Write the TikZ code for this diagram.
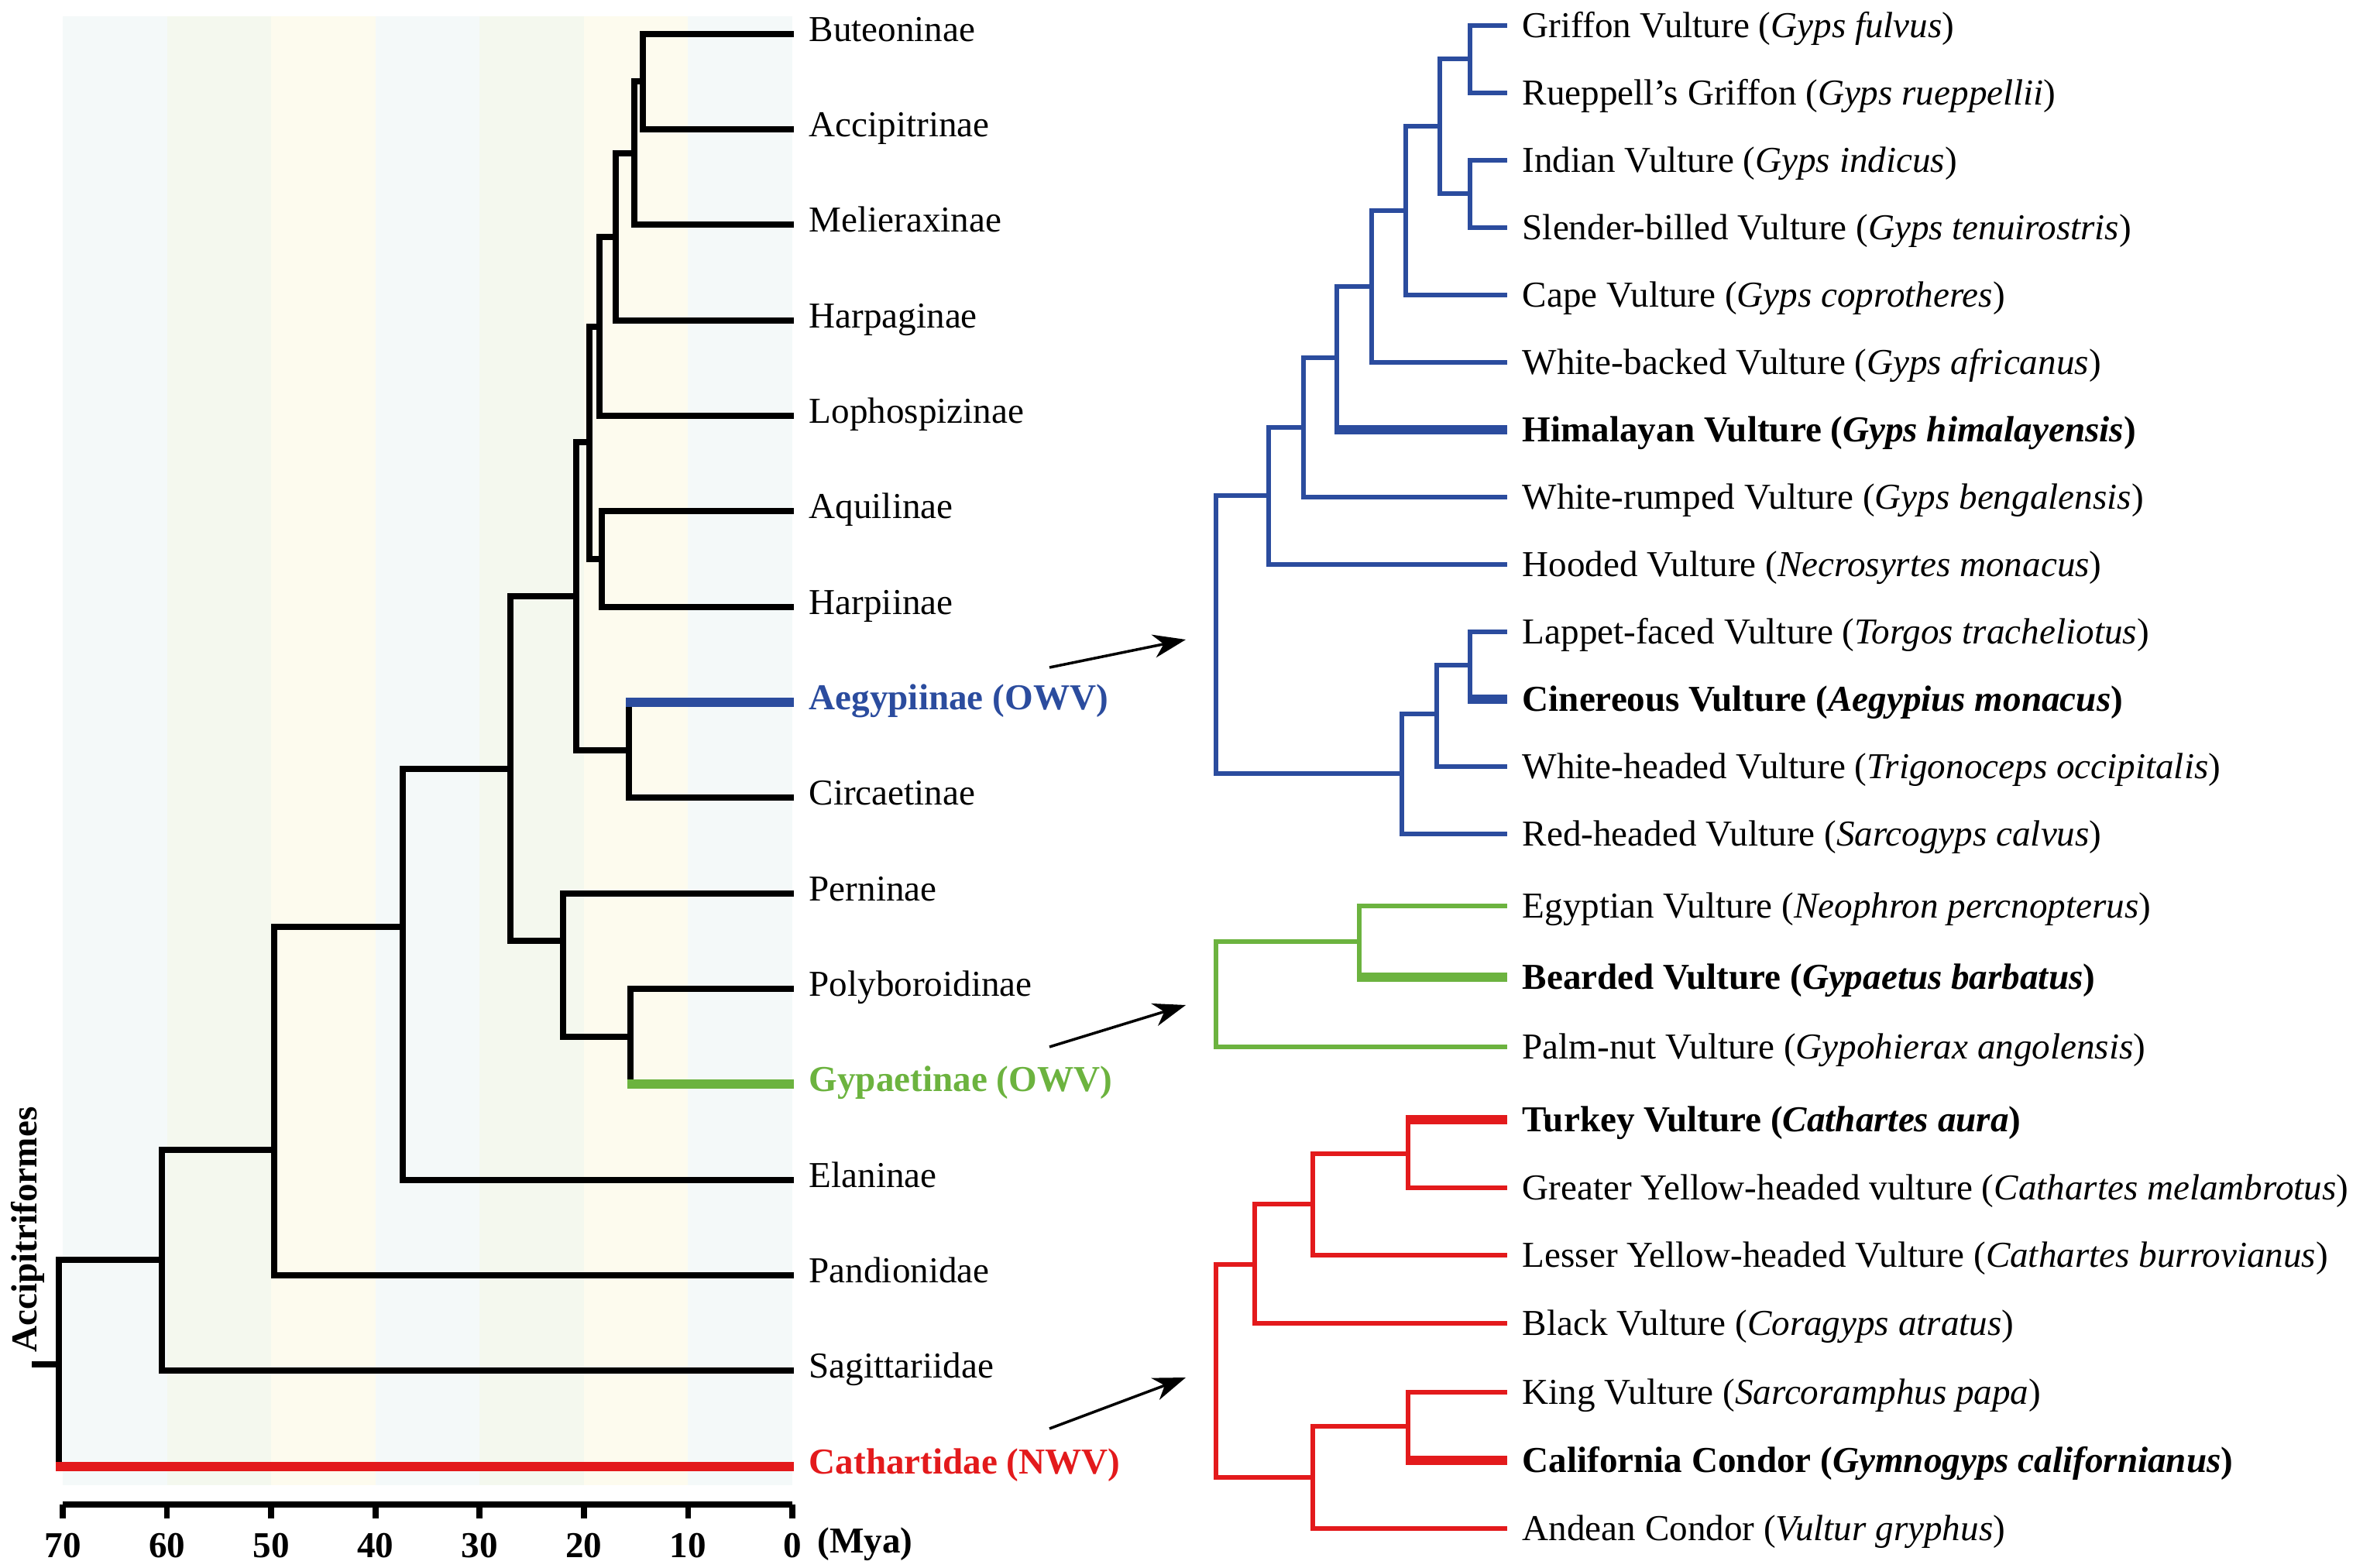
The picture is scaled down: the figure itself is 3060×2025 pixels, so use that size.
\documentclass[tikz,border=0pt]{standalone}
\usepackage{fontspec}
\setmainfont{Liberation Serif}
\usetikzlibrary{arrows.meta}
\definecolor{owvblue}{HTML}{2B4C9E}
\definecolor{owvgreen}{HTML}{6CB33F}
\definecolor{nwvred}{HTML}{E31A1C}
\definecolor{bandA}{HTML}{F4F9F9}
\definecolor{bandB}{HTML}{F4F8EE}
\definecolor{bandC}{HTML}{FDFBEE}

\begin{document}
\begin{tikzpicture}[x=0.01cm,y=-0.01cm,
  every node/.style={font=\fontsize{13.4}{16}\selectfont},
  branch/.style={line width=2.2pt},
  cbranch/.style={line width=1.9pt},
  hi/.style={line width=3.6pt},
  taxon/.style={anchor=west,inner xsep=0.19cm,inner ysep=0pt,text height=9pt,text depth=3.6pt},
  species/.style={taxon,text height=12pt,text depth=3pt},
  pointer/.style={line width=1pt,-{Stealth[length=4.2mm,width=3mm,inset=1.3mm]}}]

\useasboundingbox (0,0) rectangle (3060,2025);

\foreach \t/\c in {70/bandA,60/bandB,50/bandC,40/bandA,30/bandB,20/bandC,10/bandA}
  \fill[\c] ({1023-13.457*\t},21) rectangle ({1023-13.457*(\t-10)},1918);

\node[taxon] (Bu) at (1025,44)   {Buteoninae};
\node[taxon] (Ac) at (1025,167)  {Accipitrinae};
\node[taxon] (Me) at (1025,290)  {Melieraxinae};
\node[taxon] (Hg) at (1025,414)  {Harpaginae};
\node[taxon] (Lo) at (1025,537)  {Lophospizinae};
\node[taxon] (Aq) at (1025,660)  {Aquilinae};
\node[taxon] (Hp) at (1025,784)  {Harpiinae};
\node[taxon,text=owvblue,font=\fontsize{13.4}{16}\selectfont\bfseries] (Ae) at (1025,907) {Aegypiinae (OWV)};
\node[taxon] (Ci) at (1025,1030) {Circaetinae};
\node[taxon] (Pe) at (1025,1154) {Perninae};
\node[taxon] (Po) at (1025,1277) {Polyboroidinae};
\node[taxon,text=owvgreen,font=\fontsize{13.4}{16}\selectfont\bfseries] (Gy) at (1025,1400) {Gypaetinae (OWV)};
\node[taxon] (El) at (1025,1524) {Elaninae};
\node[taxon] (Pa) at (1025,1647) {Pandionidae};
\node[taxon] (Sa) at (1025,1770) {Sagittariidae};
\node[taxon,text=nwvred,font=\fontsize{13.4}{16}\selectfont\bfseries] (Ca) at (1025,1894) {Cathartidae (NWV)};

\coordinate (a1)  at (830,105);
\coordinate (a2)  at (819,198);
\coordinate (a3)  at (795,306);
\coordinate (a4)  at (774,422);
\coordinate (a5)  at (761,571);
\coordinate (a6)  at (777,722);
\coordinate (a7)  at (812,969);
\coordinate (a8)  at (744,770);
\coordinate (a9)  at (727,1215);
\coordinate (a10) at (814,1339);
\coordinate (a11) at (659,993);
\coordinate (a12) at (520,1197);
\coordinate (a13) at (354,1485);
\coordinate (a14) at (209,1627);
\coordinate (root) at (76,1762);
\coordinate (stub) at (41,1762);

\draw[branch] (a1) |- (Bu.west);
\draw[branch] (a1) |- (Ac.west);
\draw[branch] (a2) |- (a1);
\draw[branch] (a2) |- (Me.west);
\draw[branch] (a3) |- (a2);
\draw[branch] (a3) |- (Hg.west);
\draw[branch] (a4) |- (a3);
\draw[branch] (a4) |- (Lo.west);
\draw[branch] (a6) |- (Aq.west);
\draw[branch] (a6) |- (Hp.west);
\draw[branch] (a5) |- (a4);
\draw[branch] (a5) |- (a6);
\draw[branch] (a7) -- (a7 |- Ae.west);
\draw[branch] (a7) |- (Ci.west);
\draw[hi,owvblue] ([xshift=-1.1pt]a7 |- Ae.west) -- (Ae.west);
\draw[branch] (a8) |- (a5);
\draw[branch] (a8) |- (a7);
\draw[branch] (a10) |- (Po.west);
\draw[branch] (a10) -- (a10 |- Gy.west);
\draw[hi,owvgreen] ([xshift=-1.1pt]a10 |- Gy.west) -- (Gy.west);
\draw[branch] (a9) |- (Pe.west);
\draw[branch] (a9) |- (a10);
\draw[branch] (a11) |- (a8);
\draw[branch] (a11) |- (a9);
\draw[branch] (a12) |- (a11);
\draw[branch] (a12) |- (El.west);
\draw[branch] (a13) |- (a12);
\draw[branch] (a13) |- (Pa.west);
\draw[branch] (a14) |- (a13);
\draw[branch] (a14) |- (Sa.west);
\draw[branch] (root) |- (a14);
\draw[branch] (root) -- (root |- Ca.west);
\draw[hi,nwvred] ([xshift=-1.1pt]root |- Ca.west) -- (Ca.west);
\draw[branch] (stub) -- (root);

\node[rotate=90,font=\fontsize{13.4}{16}\selectfont\bfseries] (Acc) at (36,1588) {Accipitriformes};

\draw[branch] (81,1943) -- (1023,1943);
\foreach \t in {0,10,...,70} {
  \draw[branch] ({1023-13.457*\t},1943) -- ({1023-13.457*\t},1961);
  \node[font=\fontsize{13.4}{16}\selectfont\bfseries] (m\t) at ({1023-13.457*\t},1996) {\t};
}
\node[font=\fontsize{13.4}{16}\selectfont\bfseries] (Mya) at (1117,1994) {(Mya)};

\node[species] (Gfu) at (1946,33)   {Griffon Vulture (\textit{Gyps fulvus})};
\node[species] (Gru) at (1946,120)  {Rueppell's Griffon (\textit{Gyps rueppellii})};
\node[species] (Gin) at (1946,207)  {Indian Vulture (\textit{Gyps indicus})};
\node[species] (Gte) at (1946,294)  {Slender-billed Vulture (\textit{Gyps tenuirostris})};
\node[species] (Gco) at (1946,381)  {Cape Vulture (\textit{Gyps coprotheres})};
\node[species] (Gaf) at (1946,468)  {White-backed Vulture (\textit{Gyps africanus})};
\node[species] (Ghi) at (1946,555)  {\textbf{Himalayan Vulture (\textit{Gyps himalayensis})}};
\node[species] (Gbe) at (1946,642)  {White-rumped Vulture (\textit{Gyps bengalensis})};
\node[species] (Nmo) at (1946,729)  {Hooded Vulture (\textit{Necrosyrtes monacus})};
\node[species] (Ttr) at (1946,816)  {Lappet-faced Vulture (\textit{Torgos tracheliotus})};
\node[species] (Amo) at (1946,903)  {\textbf{Cinereous Vulture (\textit{Aegypius monacus})}};
\node[species] (Toc) at (1946,990)  {White-headed Vulture (\textit{Trigonoceps occipitalis})};
\node[species] (Sca) at (1946,1077) {Red-headed Vulture (\textit{Sarcogyps calvus})};

\node[species] (Npe) at (1946,1170) {Egyptian Vulture (\textit{Neophron percnopterus})};
\node[species] (Gba) at (1946,1262) {\textbf{Bearded Vulture (\textit{Gypaetus barbatus})}};
\node[species] (Gan) at (1946,1352) {Palm-nut Vulture (\textit{Gypohierax angolensis})};

\node[species] (Cau) at (1946,1446) {\textbf{Turkey Vulture (\textit{Cathartes aura})}};
\node[species] (Cme) at (1946,1534) {Greater Yellow-headed vulture (\textit{Cathartes melambrotus})};
\node[species] (Cbu) at (1946,1621) {Lesser Yellow-headed Vulture (\textit{Cathartes burrovianus})};
\node[species] (Cat) at (1946,1709) {Black Vulture (\textit{Coragyps atratus})};
\node[species] (Spa) at (1946,1798) {King Vulture (\textit{Sarcoramphus papa})};
\node[species] (Gca) at (1946,1886) {\textbf{California Condor (\textit{Gymnogyps californianus})}};
\node[species] (Vgr) at (1946,1974) {Andean Condor (\textit{Vultur gryphus})};

\coordinate (b1)  at (1898,76);
\coordinate (b2)  at (1898,250);
\coordinate (b3)  at (1859,163);
\coordinate (b4)  at (1815,272);
\coordinate (b5)  at (1771,370);
\coordinate (b6)  at (1726,462);
\coordinate (b7)  at (1683,552);
\coordinate (b8)  at (1638,640);
\coordinate (b9)  at (1898,859);
\coordinate (b10) at (1855,922);
\coordinate (b11) at (1810,999);
\coordinate (b0)  at (1570,820);

\draw[cbranch,owvblue] (b1) |- (Gfu.west);
\draw[cbranch,owvblue] (b1) |- (Gru.west);
\draw[cbranch,owvblue] (b2) |- (Gin.west);
\draw[cbranch,owvblue] (b2) |- (Gte.west);
\draw[cbranch,owvblue] (b3) |- (b1);
\draw[cbranch,owvblue] (b3) |- (b2);
\draw[cbranch,owvblue] (b4) |- (b3);
\draw[cbranch,owvblue] (b4) |- (Gco.west);
\draw[cbranch,owvblue] (b5) |- (b4);
\draw[cbranch,owvblue] (b5) |- (Gaf.west);
\draw[cbranch,owvblue] (b6) |- (b5);
\draw[cbranch,owvblue] (b6) -- (b6 |- Ghi.west);
\draw[hi,owvblue] ([xshift=-0.9pt]b6 |- Ghi.west) -- (Ghi.west);
\draw[cbranch,owvblue] (b7) |- (b6);
\draw[cbranch,owvblue] (b7) |- (Gbe.west);
\draw[cbranch,owvblue] (b8) |- (b7);
\draw[cbranch,owvblue] (b8) |- (Nmo.west);
\draw[cbranch,owvblue] (b9) |- (Ttr.west);
\draw[cbranch,owvblue] (b9) -- (b9 |- Amo.west);
\draw[hi,owvblue] ([xshift=-0.9pt]b9 |- Amo.west) -- (Amo.west);
\draw[cbranch,owvblue] (b10) |- (b9);
\draw[cbranch,owvblue] (b10) |- (Toc.west);
\draw[cbranch,owvblue] (b11) |- (b10);
\draw[cbranch,owvblue] (b11) |- (Sca.west);
\draw[cbranch,owvblue] (b0) |- (b8);
\draw[cbranch,owvblue] (b0) |- (b11);

\coordinate (g1) at (1755,1216);
\coordinate (g0) at (1570,1285);

\draw[cbranch,owvgreen] (g1) |- (Npe.west);
\draw[cbranch,owvgreen] (g1) -- (g1 |- Gba.west);
\draw[hi,owvgreen] ([xshift=-0.9pt]g1 |- Gba.west) -- (Gba.west);
\draw[cbranch,owvgreen] (g0) |- (g1);
\draw[cbranch,owvgreen] (g0) |- (Gan.west);

\coordinate (r1) at (1818,1490);
\coordinate (r2) at (1695,1555);
\coordinate (r3) at (1620,1633);
\coordinate (r4) at (1818,1842);
\coordinate (r5) at (1695,1908);
\coordinate (r0) at (1570,1770);

\draw[cbranch,nwvred] (r1) -- (r1 |- Cau.west);
\draw[hi,nwvred] ([xshift=-0.9pt]r1 |- Cau.west) -- (Cau.west);
\draw[cbranch,nwvred] (r1) |- (Cme.west);
\draw[cbranch,nwvred] (r2) |- (r1);
\draw[cbranch,nwvred] (r2) |- (Cbu.west);
\draw[cbranch,nwvred] (r3) |- (r2);
\draw[cbranch,nwvred] (r3) |- (Cat.west);
\draw[cbranch,nwvred] (r4) |- (Spa.west);
\draw[cbranch,nwvred] (r4) -- (r4 |- Gca.west);
\draw[hi,nwvred] ([xshift=-0.9pt]r4 |- Gca.west) -- (Gca.west);
\draw[cbranch,nwvred] (r5) |- (r4);
\draw[cbranch,nwvred] (r5) |- (Vgr.west);
\draw[cbranch,nwvred] (r0) |- (r3);
\draw[cbranch,nwvred] (r0) |- (r5);

\coordinate (p1) at (1355,862);
\coordinate (q1) at (1531,826);
\coordinate (p2) at (1355,1352);
\coordinate (q2) at (1531,1298);
\coordinate (p3) at (1355,1845);
\coordinate (q3) at (1531,1779);
\draw[pointer] (p1) -- (q1);
\draw[pointer] (p2) -- (q2);
\draw[pointer] (p3) -- (q3);
\end{tikzpicture}
\end{document}
